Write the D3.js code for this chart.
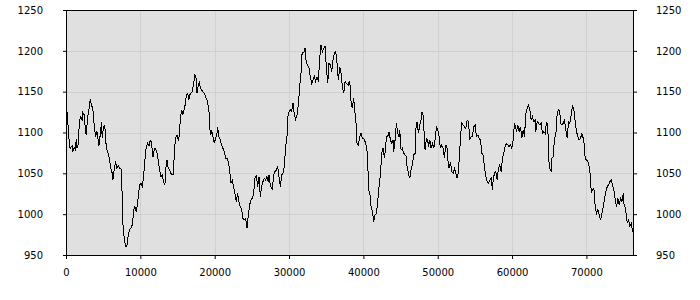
<!DOCTYPE html>
<html>
<head>
<meta charset="utf-8">
<script src="https://cdn.jsdelivr.net/npm/d3@7"></script>
<style>
  body { margin: 0; background: #fff; }
  svg { display: block; }
  .axis text { font-family: "DejaVu Sans", Verdana, sans-serif; font-size: 10px; fill: #000; }
  .axis path { display: none; }
  .axis line { stroke: #000; }
</style>
</head>
<body>
<svg id="chart" width="700" height="300"></svg>
<script>
// x positions and values
var xs = [0, 202, 292, 472, 561, 830, 920, 1100, 1279, 1369, 1459, 1638, 1818, 1997, 2177, 2266, 2446, 2625, 2715, 2895,
  3074, 3254, 3433, 3613, 3792, 3972, 4151, 4331, 4420, 4600, 4779, 4869, 5048, 5228, 5318, 5497, 5677, 5856, 6036, 6215,
  6305, 6484, 6664, 6843, 7023, 7202, 7471, 7561, 7651, 7830, 8010, 8189, 8369, 8548, 8728, 8907, 9087, 9177, 9356, 9446,
  9625, 9805, 9894, 10074, 10253, 10433, 10612, 10792, 10971, 11151, 11330, 11420, 11599, 11689, 11869, 12048, 12228, 12407, 12587, 12766,
  12946, 13125, 13305, 13394, 13574, 13753, 13933, 14112, 14292, 14471, 14561, 14740, 14920, 15099, 15279, 15369, 15548, 15728, 15907, 16087,
  16176, 16356, 16535, 16625, 16804, 16984, 17163, 17343, 17522, 17612, 17791, 17971, 18061, 18240, 18420, 18599, 18779, 18958, 19226, 19315,
  19495, 19585, 19764, 19944, 20123, 20303, 20392, 20572, 20751, 20931, 21110, 21290, 21469, 21649, 21828, 22008, 22187, 22367, 22546, 22726,
  22905, 23085, 23264, 23444, 23623, 23803, 23982, 24161, 24341, 24520, 24700, 24879, 25059, 25238, 25418, 25597, 25777, 25956, 26136, 26315,
  26495, 26674, 26854, 27033, 27213, 27302, 27482, 27661, 27751, 27930, 28110, 28289, 28469, 28648, 28828, 29007, 29187, 29366, 29546, 29725,
  29815, 29995, 30174, 30353, 30533, 30712, 30892, 31071, 31251, 31430, 31610, 31699, 31879, 32058, 32148, 32328, 32507, 32687, 32866, 33046,
  33225, 33405, 33584, 33764, 33943, 34123, 34302, 34482, 34661, 34841, 35020, 35200, 35379, 35559, 35738, 35918, 36097, 36277, 36456, 36636,
  36815, 36995, 37174, 37354, 37533, 37713, 37981, 38069, 38249, 38339, 38518, 38698, 38877, 39057, 39146, 39326, 39505, 39685, 39864, 40044,
  40223, 40403, 40582, 40672, 40852, 41031, 41211, 41390, 41570, 41749, 41929, 42108, 42288, 42467, 42647, 42826, 43006, 43095, 43275, 43454,
  43634, 43813, 43993, 44082, 44262, 44441, 44621, 44800, 44890, 45069, 45249, 45428, 45608, 45787, 45877, 46056, 46236, 46415, 46595, 46774,
  46954, 47043, 47223, 47402, 47582, 47761, 47851, 48031, 48120, 48300, 48479, 48659, 48749, 48928, 49108, 49287, 49467, 49646, 49826, 50005,
  50184, 50364, 50543, 50723, 50902, 51082, 51261, 51351, 51530, 51710, 51889, 52069, 52248, 52428, 52607, 52787, 52966, 53146, 53236, 53415,
  53595, 53774, 53954, 54133, 54313, 54492, 54672, 54851, 55031, 55210, 55390, 55569, 55749, 55928, 56108, 56287, 56467, 56646, 56826, 57005,
  57182, 57362, 57452, 57631, 57811, 57990, 58170, 58349, 58529, 58708, 58888, 59067, 59247, 59426, 59606, 59785, 59965, 60144, 60324, 60503,
  60593, 60772, 60952, 61131, 61311, 61490, 61670, 61849, 62029, 62208, 62388, 62567, 62747, 62926, 63106, 63195, 63375, 63554, 63734, 63913,
  64093, 64272, 64452, 64631, 64811, 64900, 65080, 65259, 65349, 65528, 65708, 65887, 66067, 66246, 66426, 66515, 66695, 66874, 67054, 67233,
  67413, 67592, 67772, 67951, 68131, 68310, 68490, 68669, 68849, 69028, 69208, 69387, 69567, 69746, 69836, 70015, 70195, 70374, 70554, 70644,
  70823, 71003, 71182, 71362, 71541, 71721, 71900, 72080, 72259, 72439, 72618, 72798, 72977, 73157, 73336, 73516, 73695, 73875, 74054, 74234,
  74413, 74593, 74772, 74952, 75041, 75221, 75400, 75490, 75669, 75849, 76028, 76208, 76400];

var values = [1143.9, 1115.4, 1107.2, 1082.7, 1080.7, 1083.5, 1076.6, 1081.9, 1078.6, 1091.7, 1080.7, 1084.8, 1115.4, 1119.4, 1114.5, 1124.7, 1121.5, 1101.1, 1097.0, 1117.4,
  1127.6, 1140.7, 1133.7, 1128.4, 1109.2, 1095.0, 1101.1, 1090.9, 1083.5, 1097.0, 1113.3, 1092.9, 1107.2, 1108.4, 1090.9, 1078.6, 1074.5, 1066.4, 1056.2, 1050.1,
  1041.9, 1054.2, 1064.4, 1056.2, 1059.1, 1056.2, 1055.0, 1017.4, 988.9, 970.5, 960.3, 961.1, 974.6, 980.7, 982.8, 986.8, 1001.1, 1009.3, 1007.2, 1003.2,
  1013.3, 1027.6, 1035.8, 1037.8, 1033.7, 1046.0, 1066.4, 1081.9, 1086.8, 1083.5, 1090.1, 1090.9, 1078.6, 1069.6, 1079.5, 1080.7, 1075.4, 1066.4, 1054.2, 1046.0,
  1048.0, 1039.9, 1035.8, 1054.2, 1066.4, 1056.2, 1054.2, 1050.1, 1048.0, 1048.0, 1076.6, 1092.9, 1097.0, 1090.9, 1097.0, 1117.4, 1127.6, 1121.5, 1129.6, 1135.7,
  1146.0, 1148.0, 1139.8, 1146.0, 1148.0, 1150.0, 1160.2, 1170.4, 1166.4, 1148.0, 1158.2, 1162.3, 1154.1, 1152.1, 1150.0, 1148.0, 1143.9, 1139.8, 1127.6, 1105.1,
  1097.0, 1103.1, 1094.9, 1086.8, 1092.9, 1099.0, 1107.2, 1094.9, 1090.9, 1084.7, 1080.7, 1076.6, 1068.4, 1068.4, 1064.3, 1054.1, 1037.8, 1041.9, 1033.7, 1025.5,
  1015.4, 1025.5, 1015.4, 1009.2, 1005.2, 994.9, 992.9, 994.9, 982.7, 999.0, 1011.3, 1017.4, 1019.4, 1025.5, 1043.9, 1048.0, 1033.7, 1045.9, 1021.5, 1033.7,
  1039.8, 1043.9, 1041.9, 1045.9, 1039.8, 1048.0, 1035.8, 1031.7, 1029.7, 1048.0, 1052.1, 1054.1, 1058.2, 1045.9, 1033.7, 1048.0, 1050.0, 1058.2, 1082.7, 1094.9,
  1118.6, 1125.5, 1127.6, 1125.5, 1136.5, 1121.5, 1116.1, 1121.5, 1133.7, 1156.1, 1172.5, 1194.9, 1197.8, 1199.0, 1203.1, 1184.7, 1182.7, 1178.6, 1168.4, 1160.2,
  1164.3, 1168.4, 1162.3, 1168.4, 1162.3, 1190.8, 1207.1, 1199.0, 1203.1, 1205.1, 1180.6, 1160.2, 1184.7, 1182.7, 1174.5, 1188.8, 1196.9, 1199.0, 1184.7, 1164.3,
  1180.6, 1172.5, 1156.1, 1148.0, 1162.3, 1160.2, 1158.2, 1162.3, 1156.1, 1137.8, 1129.6, 1141.9, 1123.5, 1107.2, 1086.8, 1084.7, 1094.9, 1099.0, 1092.9, 1092.9,
  1088.8, 1082.7, 1072.5, 1029.7, 1027.6, 1009.2, 1003.1, 990.9, 999.0, 1001.1, 1015.4, 1033.7, 1048.0, 1074.5, 1080.7, 1068.4, 1082.7, 1094.9, 1094.9, 1101.1,
  1090.9, 1086.8, 1090.9, 1076.6, 1090.9, 1111.3, 1099.0, 1094.9, 1103.1, 1078.6, 1080.7, 1074.5, 1072.5, 1070.4, 1058.2, 1050.0, 1043.9, 1054.1, 1060.3, 1072.5,
  1074.5, 1103.1, 1113.3, 1099.0, 1109.2, 1115.3, 1125.5, 1121.5, 1107.2, 1078.6, 1092.9, 1090.9, 1082.7, 1090.9, 1080.7, 1086.8, 1080.7, 1090.9, 1107.2, 1103.1,
  1094.9, 1080.7, 1084.7, 1080.7, 1068.4, 1084.7, 1080.7, 1066.4, 1056.2, 1064.3, 1052.1, 1050.0, 1056.2, 1050.0, 1043.9, 1052.1, 1078.6, 1103.1, 1111.3, 1109.2,
  1107.2, 1105.1, 1115.3, 1113.3, 1090.9, 1094.9, 1094.9, 1107.2, 1109.2, 1094.9, 1097.0, 1092.9, 1090.9, 1074.5, 1072.5, 1058.2, 1046.0, 1039.8, 1037.8, 1041.9,
  1043.9, 1029.7, 1041.9, 1050.1, 1052.1, 1041.9, 1056.2, 1060.3, 1052.1, 1068.4, 1074.5, 1082.7, 1086.8, 1084.7, 1082.7, 1084.7, 1080.7, 1090.9, 1111.3, 1105.1,
  1101.1, 1109.2, 1101.1, 1107.2, 1092.9, 1103.1, 1094.9, 1123.5, 1129.6, 1133.7, 1127.6, 1115.3, 1119.4, 1113.3, 1115.3, 1101.1, 1113.3, 1111.3, 1109.2, 1111.3,
  1099.0, 1101.1, 1099.0, 1113.3, 1109.2, 1068.4, 1056.2, 1052.1, 1068.4, 1070.4, 1092.9, 1097.0, 1123.5, 1127.6, 1125.5, 1111.3, 1109.2, 1111.3, 1115.3, 1103.1,
  1092.9, 1113.3, 1111.3, 1121.5, 1133.7, 1127.6, 1113.3, 1101.1, 1094.9, 1090.9, 1092.9, 1099.0, 1092.9, 1082.7, 1066.4, 1066.4, 1064.3, 1058.2, 1046.0, 1025.5,
  1029.7, 1031.7, 1009.2, 1001.1, 1005.2, 999.1, 992.9, 1001.1, 1009.2, 1019.4, 1027.6, 1033.7, 1035.8, 1039.9, 1041.9, 1035.8, 1029.7, 1017.4, 1009.2, 1019.4,
  1011.3, 1019.4, 1015.4, 1025.5, 1013.3, 1007.2, 996.9, 988.8, 992.9, 984.8, 988.8, 978.7, 978.7];

var xTicks = [0, 10000, 20000, 30000, 40000, 50000, 60000, 70000];
var yTicks = [950, 1000, 1050, 1100, 1150, 1200, 1250];

var svg = d3.select('#chart');
var padding = { t: 10, r: 66, b: 45, l: 66 };
var chartWidth = +svg.attr('width') - padding.l - padding.r;
var chartHeight = +svg.attr('height') - padding.t - padding.b;

var xScale = d3.scaleLinear().domain([0, 76400]).range([0, chartWidth]);
var yScale = d3.scaleLinear().domain([950, 1250]).range([chartHeight, 0]);

var chartG = svg.append('g')
  .attr('transform', 'translate(' + [padding.l, padding.t] + ')');

chartG.append('rect')
  .attr('width', chartWidth)
  .attr('height', chartHeight)
  .attr('fill', '#e0e0e0');

// grid
chartG.append('g').selectAll('line.h')
  .data(yTicks.slice(1, -1))
  .enter().append('line')
  .attr('x1', 0).attr('x2', chartWidth)
  .attr('y1', d => Math.round(yScale(d)) + 0.5)
  .attr('y2', d => Math.round(yScale(d)) + 0.5)
  .attr('stroke', '#d0d0d0');
chartG.append('g').selectAll('line.v')
  .data(xTicks.slice(1))
  .enter().append('line')
  .attr('y1', 0).attr('y2', chartHeight)
  .attr('x1', d => Math.round(xScale(d)) + 0.5)
  .attr('x2', d => Math.round(xScale(d)) + 0.5)
  .attr('stroke', '#d0d0d0');

var line = d3.line()
  .x((d, i) => xScale(xs[i]))
  .y(d => yScale(d));

chartG.append('path')
  .datum(values)
  .attr('d', line)
  .attr('fill', 'none')
  .attr('stroke', '#000')
  .attr('stroke-width', 1)
  .attr('shape-rendering', 'crispEdges');

// axes
var fmt = d3.format('d');
chartG.append('g').attr('class', 'axis')
  .call(d3.axisLeft(yScale).tickValues(yTicks).tickFormat(fmt).tickSize(3).tickPadding(20));
chartG.append('g').attr('class', 'axis')
  .attr('transform', 'translate(' + chartWidth + ',0)')
  .call(d3.axisRight(yScale).tickValues(yTicks).tickFormat(fmt).tickSize(3).tickPadding(19));
chartG.append('g').attr('class', 'axis')
  .attr('transform', 'translate(0,' + chartHeight + ')')
  .call(d3.axisBottom(xScale).tickValues(xTicks).tickFormat(fmt).tickSize(4).tickPadding(10));

chartG.append('rect')
  .attr('x', 0.5).attr('y', 0.5)
  .attr('width', chartWidth - 1)
  .attr('height', chartHeight)
  .attr('fill', 'none')
  .attr('stroke', '#000');
</script>
</body>
</html>
